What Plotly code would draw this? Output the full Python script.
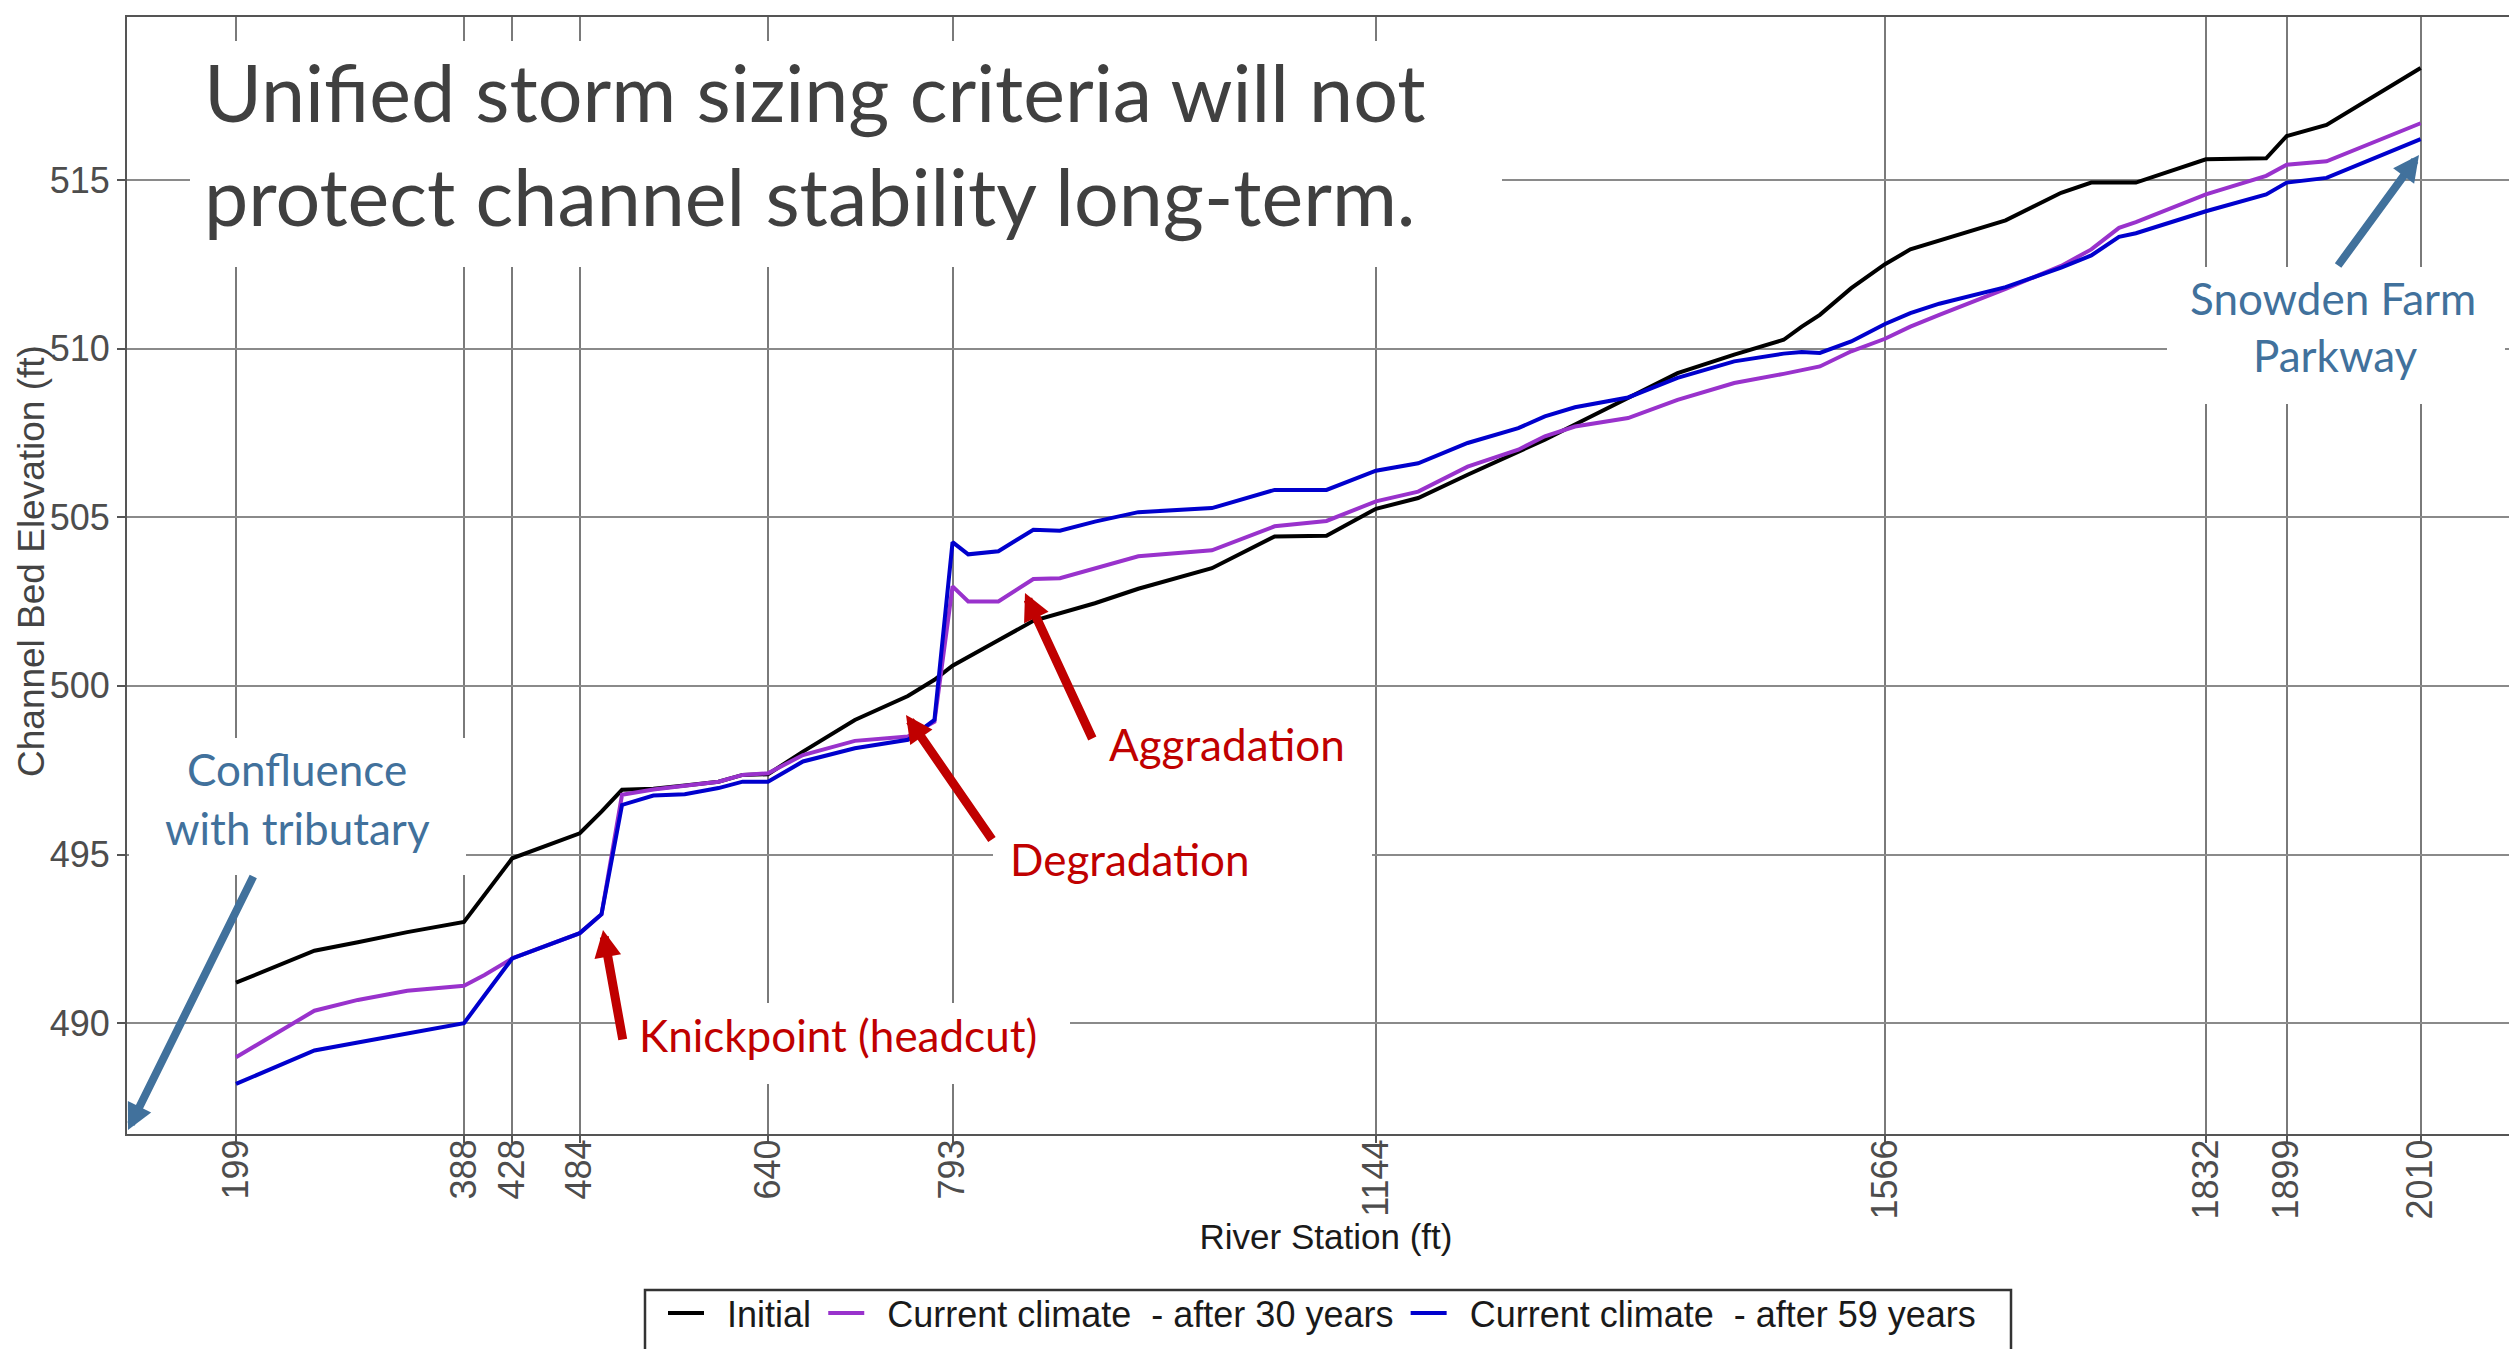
import plotly.graph_objects as go

# ---------------- data ----------------
stations = [199, 264, 300, 341, 388, 405, 428, 484, 502, 519, 545, 571, 599, 619, 640,
            669, 712, 756, 778, 793, 806, 831, 860, 882, 911, 947, 1008, 1060, 1103, 1144,
            1179, 1220, 1262, 1284, 1309, 1353, 1394, 1441, 1482, 1497, 1512, 1538, 1566, 1587, 1611,
            1666, 1712, 1737, 1760, 1774, 1832, 1882, 1899, 1932, 2010]

initial = [491.2, 492.15, 492.4, 492.7, 493.0, 493.8, 494.89, 495.63, 496.27, 496.92, 496.95, 497.05, 497.16, 497.36, 497.38,
           498.05, 498.99, 499.7, 500.18, 500.6, 500.85, 501.35, 501.93, 502.15, 502.45, 502.88, 503.49, 504.43, 504.45, 505.25,
           505.57, 506.26, 506.95, 507.3, 507.75, 508.53, 509.27, 509.82, 510.26, 510.65, 511.0, 511.79, 512.5, 512.94, 513.2,
           513.8, 514.62, 514.92, 514.92, 514.92, 515.61, 515.64, 516.3, 516.63, 518.32]

after30 = [488.99, 490.37, 490.69, 490.96, 491.11, 491.43, 491.92, 492.67, 493.23, 496.77, 496.93, 497.03, 497.16, 497.36, 497.41,
           497.95, 498.37, 498.5, 498.94, 502.95, 502.5, 502.5, 503.17, 503.19, 503.49, 503.84, 504.02, 504.73, 504.89, 505.47,
           505.76, 506.5, 507.0, 507.4, 507.69, 507.94, 508.48, 508.98, 509.25, 509.37, 509.47, 509.92, 510.29, 510.65, 511.0,
           511.77, 512.45, 512.94, 513.58, 513.75, 514.57, 515.12, 515.45, 515.55, 516.68]

after59 = [488.2, 489.19, 489.43, 489.7, 490.0, 490.82, 491.92, 492.67, 493.23, 496.47, 496.75, 496.79, 496.97, 497.16, 497.16,
           497.76, 498.15, 498.4, 498.99, 504.26, 503.9, 503.99, 504.63, 504.6, 504.87, 505.15, 505.27, 505.81, 505.81, 506.38,
           506.6, 507.2, 507.64, 507.99, 508.26, 508.55, 509.13, 509.62, 509.85, 509.9, 509.87, 510.21, 510.73, 511.05, 511.33,
           511.82, 512.4, 512.76, 513.31, 513.42, 514.07, 514.57, 514.92, 515.06, 516.21]

x_ticks = [199, 388, 428, 484, 640, 793, 1144, 1566, 1832, 1899, 2010]
y_ticks = [490, 495, 500, 505, 510, 515]

series_names = ["Initial", "Current climate \u00a0- after 30 years", "Current climate \u00a0- after 59 years"]
series_colors = ["#000000", "#9932CC", "#0000CD"]

# ---------------- layout helpers ----------------
W, H = 2517, 1349
L, R, T, B = 119, 2517, 9, 1126


def px(xpix):
    return (xpix - L) / (R - L)


def py(ypix):
    return (B - ypix) / (B - T)


fig = go.Figure()
for vals, name, col in zip([initial, after30, after59], series_names, series_colors):
    fig.add_trace(go.Scatter(x=stations, y=vals, mode="lines",
                             name="\u2002" + name + "\u2009",
                             line=dict(color=col, width=4)))

TXT = "Liberation Sans, Arial, sans-serif"
CAL = "Lato, sans-serif"
BLUE = "#41719C"
RED = "#C00000"

# white boxes behind callouts (they hide the grid like the slide's text boxes)
boxes = [(182, 33, 1494, 259), (121, 730, 458, 867), (2159, 259, 2497, 396),
         (612, 995, 1062, 1076), (985, 690, 1364, 905)]
shapes = []
for x0, y0, x1, y1 in boxes:
    shapes.append(dict(type="rect", xref="paper", yref="paper",
                       x0=px(x0), x1=px(x1), y0=py(y1), y1=py(y0),
                       fillcolor="white", line=dict(width=0), layer="above"))
# legend frame
shapes.append(dict(type="rect", xref="paper", yref="paper",
                   x0=px(637), x1=px(2003), y0=py(1356), y1=py(1282),
                   fillcolor="rgba(0,0,0,0)", line=dict(color="#333333", width=2.5),
                   layer="above"))

ann = []


def text(t, xc, ymid, size, color, anchor="center"):
    ann.append(dict(text=t, xref="paper", yref="paper", x=px(xc), y=py(ymid),
                    xanchor=anchor, yanchor="middle", showarrow=False,
                    font=dict(family=CAL, size=size, color=color)))


def arrow(hx, hy, tx, ty, color, width, size):
    ann.append(dict(text="", xref="paper", yref="paper", x=px(hx), y=py(hy),
                    ax=tx - hx, ay=ty - hy, axref="pixel", ayref="pixel",
                    showarrow=True, arrowhead=2, arrowwidth=width, arrowsize=size,
                    arrowcolor=color, standoff=0))


text("Unified storm sizing criteria will not", 194, 83, 79, "#404040", "left")
text("protect channel stability long-term.", 194, 188, 79, "#404040", "left")

text("Confluence", 289, 761, 44, BLUE)
text("with tributary", 289, 820, 44, BLUE)
text("Snowden Farm", 2325, 290, 44, BLUE)
text("Parkway", 2327, 347, 44, BLUE)
text("Knickpoint (headcut)", 830, 1027, 44, RED)
text("Degradation", 1122, 851, 44, RED)
text("Aggradation", 1219, 736, 44, RED)

arrow(120, 1122, 246, 867, BLUE, 8, 0.65)
arrow(2411, 147, 2329, 259, BLUE, 8, 0.65)
arrow(595, 922, 615, 1033, RED, 9, 0.6)
arrow(898, 707, 985, 833, RED, 9, 0.6)
arrow(1017, 585, 1085, 732, RED, 9, 0.6)

# y-axis title as rotated annotation (placed like the reference)
ann.append(dict(text="Channel Bed Elevation (ft)", xref="paper", yref="paper",
                x=px(23), y=py(553), xanchor="center", yanchor="middle",
                textangle=-90, showarrow=False,
                font=dict(family=TXT, size=37, color="#444444")))

x_min = 199 - (228 - L) / 1.2063
x_max = 199 + (R - 228) / 1.2063
y_min = 490 - (B - 1015.2) / 33.73
y_max = 515 + (171.9 - T) / 33.73

fig.update_layout(
    width=W, height=H,
    margin=dict(l=L, r=W - R, t=T, b=H - B, pad=0),
    paper_bgcolor="white", plot_bgcolor="white",
    font=dict(family=TXT, color="#333333"),
    shapes=shapes, annotations=ann,
    showlegend=True,
    legend=dict(orientation="h", x=px(655), xanchor="left", y=py(1275), yanchor="top",
                font=dict(family=TXT, size=36, color="#1a1a1a"),
                borderwidth=0, bgcolor="rgba(0,0,0,0)",
                itemwidth=36, tracegroupgap=0),
)
fig.update_xaxes(range=[x_min, x_max], tickmode="array", tickvals=x_ticks,
                 ticktext=[str(v) for v in x_ticks], tickangle=-90,
                 tickfont=dict(family=TXT, size=36, color="#4d4d4d"),
                 ticks="outside", ticklen=7, tickwidth=2, tickcolor="#555555",
                 ticklabelstandoff=-18,
                 showgrid=True, gridcolor="#7a7a7a", gridwidth=1.5,
                 showline=True, linecolor="#555555", linewidth=2, mirror=True,
                 zeroline=False,
                 title=dict(text="River Station (ft)", font=dict(family=TXT, size=35, color="#1a1a1a"),
                            standoff=3))
fig.update_yaxes(range=[y_min, y_max], tickmode="array", tickvals=y_ticks,
                 tickfont=dict(family=TXT, size=36, color="#4d4d4d"),
                 ticks="outside", ticklen=8, tickwidth=2, tickcolor="#555555",
                 showgrid=True, gridcolor="#8a8a8a", gridwidth=1.5,
                 showline=True, linecolor="#555555", linewidth=2,
                 zeroline=False)

fig.write_html("out.html")
